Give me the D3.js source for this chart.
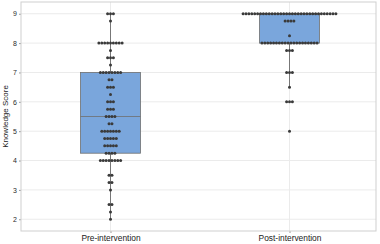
<!DOCTYPE html>
<html>
<head>
<meta charset="utf-8">
<script src="https://cdn.jsdelivr.net/npm/d3@7"></script>
<style>
  body { margin: 0; background: #fff; }
  svg { display: block; font-family: "Liberation Sans", Arial, sans-serif; }
</style>
</head>
<body>
<svg width="380" height="244"></svg>
<script>
// groups
var groups = ["Pre-intervention", "Post-intervention"];

var preScores  = [9, 8.75, 8, 7.75, 7.5, 7.25, 7, 6.75, 6.5, 6.25, 6, 5.75, 5.5, 5.25, 5, 4.75, 4.5, 4.25, 4, 3.5, 3.25, 3, 2.5, 2.25, 2];
var preCounts  = [3, 1, 9, 1, 3, 1, 8, 2, 3, 1, 3, 3, 4, 2, 7, 5, 5, 4, 8, 2, 2, 1, 2, 1, 1];
var postScores = [9, 8.75, 8.25, 8, 7.75, 7, 6.5, 6, 5];
var postCounts = [33, 4, 1, 20, 3, 3, 1, 3, 1];

// box summary per group
var boxQ1     = [4.25, 8];
var boxMedian = [5.5, 9];
var boxQ3     = [7, 9];
var whiskLo   = [2, 6.5];
var whiskHi   = [9, 9];

var yTicks = [2, 3, 4, 5, 6, 7, 8, 9];

var svg = d3.select("svg"),
    margin = {top: 2, right: 4, bottom: 13, left: 21},
    width = +svg.attr("width") - margin.left - margin.right,
    height = +svg.attr("height") - margin.top - margin.bottom;

var x = d3.scalePoint().domain(groups).range([0, width + 3]).padding(0.5),
    y = d3.scaleLinear().domain([1.6, 9.4]).range([height, 0]);

var g = svg.append("g")
    .attr("transform", "translate(" + margin.left + "," + margin.top + ")");

// grid
g.selectAll(".hgrid")
  .data(yTicks)
  .enter().append("line")
    .attr("x1", 0).attr("x2", width)
    .attr("y1", function(d) { return y(d); })
    .attr("y2", function(d) { return y(d); })
    .attr("stroke", "#ebebeb");

g.selectAll(".vgrid")
  .data(groups)
  .enter().append("line")
    .attr("x1", function(d) { return x(d); })
    .attr("x2", function(d) { return x(d); })
    .attr("y1", 0).attr("y2", height)
    .attr("stroke", "#ebebeb");

// axes
var yAxis = g.append("g")
    .call(d3.axisLeft(y).tickValues(yTicks).tickSize(2).tickPadding(2));
yAxis.select(".domain").remove();
yAxis.selectAll("line").attr("stroke", "#999");
yAxis.selectAll("text")
    .attr("fill", "#2a2a2a")
    .style("font-size", "7px");

var xAxis = g.append("g")
    .attr("transform", "translate(0," + height + ")")
    .call(d3.axisBottom(x).tickSize(2).tickPadding(2));
xAxis.select(".domain").remove();
xAxis.selectAll("line").attr("stroke", "#999");
xAxis.selectAll("text")
    .attr("fill", "#222")
    .style("font-size", "8.4px");

svg.append("text")
    .attr("transform", "rotate(-90)")
    .attr("x", -(margin.top + height / 2))
    .attr("y", 8)
    .attr("text-anchor", "middle")
    .attr("fill", "#222")
    .style("font-size", "8px")
    .text("Knowledge Score");

// frame
g.append("rect")
    .attr("width", width)
    .attr("height", height)
    .attr("fill", "none")
    .attr("stroke", "#cfcfcf");

// boxes
var boxW = x.step() * 0.335;

groups.forEach(function(grp, i) {
  var cx = x(grp);
  g.append("line")
      .attr("x1", cx).attr("x2", cx)
      .attr("y1", y(whiskLo[i])).attr("y2", y(boxQ1[i]))
      .attr("stroke", "#777");
  g.append("line")
      .attr("x1", cx).attr("x2", cx)
      .attr("y1", y(boxQ3[i])).attr("y2", y(whiskHi[i]))
      .attr("stroke", "#777");
  g.append("rect")
      .attr("x", cx - boxW / 2)
      .attr("y", y(boxQ3[i]))
      .attr("width", boxW)
      .attr("height", y(boxQ1[i]) - y(boxQ3[i]))
      .attr("fill", "#7aa6dc")
      .attr("stroke", "#6f6f6f")
      .attr("stroke-width", 0.8);
  g.append("line")
      .attr("x1", cx - boxW / 2).attr("x2", cx + boxW / 2)
      .attr("y1", y(boxMedian[i])).attr("y2", y(boxMedian[i]))
      .attr("stroke", "#6f6f6f")
      .attr("stroke-width", 0.8);
});

// swarm points, one row per score
var gap = 2.9;
var points = [];
[[preScores, preCounts], [postScores, postCounts]].forEach(function(s, i) {
  s[0].forEach(function(v, j) {
    var n = s[1][j];
    for (var k = 0; k < n; k++) {
      points.push({group: groups[i], value: v, off: (k - (n - 1) / 2) * gap});
    }
  });
});

g.selectAll(".dot")
  .data(points)
  .enter().append("circle")
    .attr("class", "dot")
    .attr("cx", function(d) { return x(d.group) + d.off; })
    .attr("cy", function(d) { return y(d.value); })
    .attr("r", 1.5)
    .attr("fill", "#3a3a3a");
</script>
</body>
</html>
